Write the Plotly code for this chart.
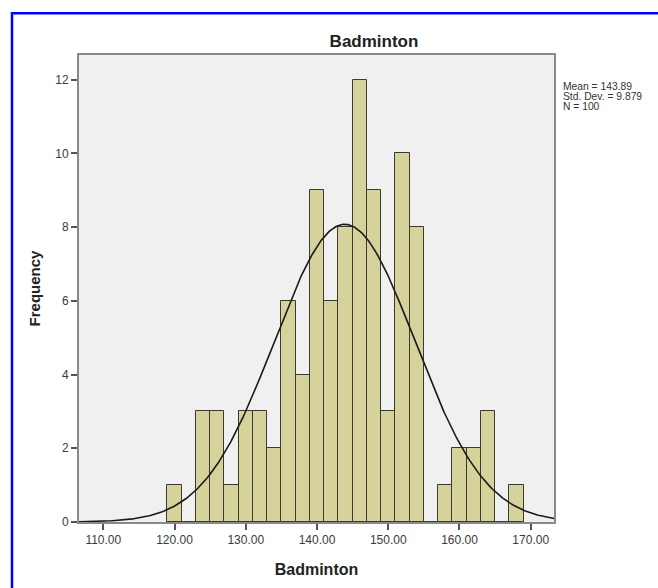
import numpy as np
import plotly.graph_objects as go

# Histogram data (bin width 2)
bin_centers = [120, 122, 124, 126, 128, 130, 132, 134, 136, 138, 140, 142, 144,
               146, 148, 150, 152, 154, 156, 158, 160, 162, 164, 166, 168]
counts = [1, 0, 3, 3, 1, 3, 3, 2, 6, 4, 9, 6, 8,
          12, 9, 3, 10, 8, 0, 1, 2, 2, 3, 0, 1]
bin_width = 2
mean_val = 143.89
std_val = 9.879
n_val = 100
x_ticks = [110, 120, 130, 140, 150, 160, 170]
y_ticks = [0, 2, 4, 6, 8, 10, 12]
stats_lines = [f"Mean = {mean_val:.2f}", f"Std. Dev. = {std_val:.3f}", f"N = {n_val}"]

W, H = 658, 588
L, R, T, B = 79, 554, 55, 526
x_range = [106.59, 173.27]
y_range = [0, 12.67]

FONT = "Liberation Sans, Arial, sans-serif"

fig = go.Figure()
fig.add_trace(go.Bar(
    x=bin_centers, y=counts, width=[bin_width] * len(bin_centers),
    marker=dict(color="#d6d29c", line=dict(color="#3a3a30", width=1)),
    hoverinfo="x+y", showlegend=False,
))

xc = np.linspace(x_range[0], x_range[1], 400)
yc = n_val * bin_width * np.exp(-0.5 * ((xc - mean_val) / std_val) ** 2) / (std_val * np.sqrt(2 * np.pi))
fig.add_trace(go.Scatter(x=xc, y=yc, mode="lines",
                         line=dict(color="#1a1a1a", width=1.6), showlegend=False,
                         hoverinfo="skip"))

def px_x(p):
    return (p - L) / (R - L)

def px_y(p):
    return (B - p) / (B - T)

# Blue frame around the chart (left and top edges)
fig.add_shape(type="path", xref="paper", yref="paper",
              path=f"M {px_x(12)} {px_y(600)} L {px_x(12)} {px_y(13)} L {px_x(670)} {px_y(13)}",
              line=dict(color="#0000ff", width=2.5), layer="above")

for i, line in enumerate(stats_lines):
    fig.add_annotation(xref="paper", yref="paper", x=px_x(562), y=px_y(86.5 + 10 * i),
                       xanchor="left", yanchor="middle", align="left", showarrow=False,
                       borderpad=0,
                       text=line, font=dict(family=FONT, size=10.3, color="#333333"))

fig.update_layout(
    width=W, height=H,
    margin=dict(l=L, r=W - R, t=T, b=H - B, pad=0),
    paper_bgcolor="white", plot_bgcolor="#f0f0f0",
    bargap=0,
    font=dict(family=FONT, size=12, color="#333333"),
    title=dict(text="<b>Badminton</b>", x=374 / W, xanchor="center",
               y=1 - 41 / H, yanchor="middle",
               font=dict(family=FONT, size=17, color="#222222")),
    xaxis=dict(range=x_range, tickvals=x_ticks, tickformat=".2f",
               showgrid=False, zeroline=False, ticks="outside", ticklen=6,
               tickcolor="#555555", tickwidth=1.5,
               showline=True, mirror=True, linecolor="#8a8a8a", linewidth=2,
               tickfont=dict(size=12, color="#3a3a3a"),
               title=dict(text="<b>Badminton</b>", standoff=17,
                          font=dict(family=FONT, size=16, color="#222222"))),
    yaxis=dict(range=y_range, tickvals=y_ticks,
               showgrid=False, zeroline=False, ticks="outside", ticklen=6,
               tickcolor="#555555", tickwidth=1.5,
               showline=True, mirror=True, linecolor="#8a8a8a", linewidth=2,
               tickfont=dict(size=12, color="#3a3a3a"),
               title=dict(text="<b>Frequency</b>", standoff=11,
                          font=dict(family=FONT, size=15, color="#222222"))),
)

fig.write_html("out.html", config={"displayModeBar": False},
               post_script="document.body.style.margin='0';document.body.style.overflow='hidden';")
